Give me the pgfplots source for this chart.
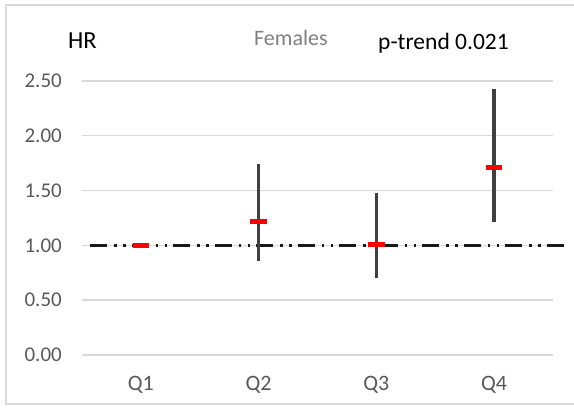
\documentclass[border=0pt]{standalone}
\usepackage{fontspec}
\setmainfont{Carlito}
\usepackage{pgfplots}
\pgfplotsset{compat=1.18}
\definecolor{gridc}{HTML}{D9D9D9}
\definecolor{tickc}{HTML}{595959}
\definecolor{titc}{HTML}{7F7F7F}
\definecolor{barc}{HTML}{404040}
\definecolor{mred}{HTML}{FF0000}
\begin{document}
\begin{tikzpicture}[x=1pt,y=1pt]
\path[use as bounding box] (0,0) rectangle (574,410);
\draw[gridc, line width=1.5pt] (600,405) -- (6,405) -- (6,6) -- (600,6);
\begin{axis}[
  at={(82pt,55pt)}, anchor=south west,
  scale only axis, width=471pt, height=274pt,
  xmin=0.5, xmax=4.5, ymin=0, ymax=2.5,
  clip=false,
  axis line style={draw=none},
  tick style={draw=none},
  ymajorgrids, grid style={gridc, line width=1.4pt},
  ytick={0,0.5,1,1.5,2,2.5},
  xtick={1,2,3,4},
  xticklabels={Q1,Q2,Q3,Q4},
  /pgf/number format/assume math mode=true,
  yticklabel={\pgfmathprintnumber[fixed,fixed zerofill,precision=2]{\tick}},
  yticklabel style={font=\fontsize{21}{24}\selectfont, text=tickc, inner sep=0pt, anchor=east, xshift=-20pt},
  xticklabel style={font=\fontsize{22}{25}\selectfont, text=tickc, inner sep=0pt, anchor=north, yshift=-21pt},
]
% reference line (dash-dot-dot)
\addplot[black!90, line width=2.9pt, dash pattern=on 17pt off 7pt on 2.5pt off 6.5pt on 2.5pt off 6pt]
  coordinates {(0.568,1.00) (4.602,1.00)};
% confidence intervals
\addplot[barc, line width=3.3pt] coordinates {(2,0.86) (2,1.74)};
\addplot[barc, line width=3.3pt] coordinates {(3,0.70) (3,1.48)};
\addplot[barc, line width=3.3pt] coordinates {(4,1.21) (4,2.43)};
% hazard ratios
\addplot[only marks, mark=-, mark size=8.3pt, mark options={mred, line width=5pt}]
  coordinates {(1,1.00) (2,1.22) (3,1.01) (4,1.71)};
\end{axis}
\node[anchor=base west, inner sep=0pt, font=\fontsize{24.5}{28}\selectfont] at (68,361) {HR};
\node[anchor=base west, inner sep=0pt, text=titc, font=\fontsize{22}{26}\selectfont] at (254,364) {Females};
\node[anchor=base west, inner sep=0pt, font=\fontsize{23.5}{27}\selectfont] at (378,360) {p-trend 0.021};
\end{tikzpicture}
\end{document}
